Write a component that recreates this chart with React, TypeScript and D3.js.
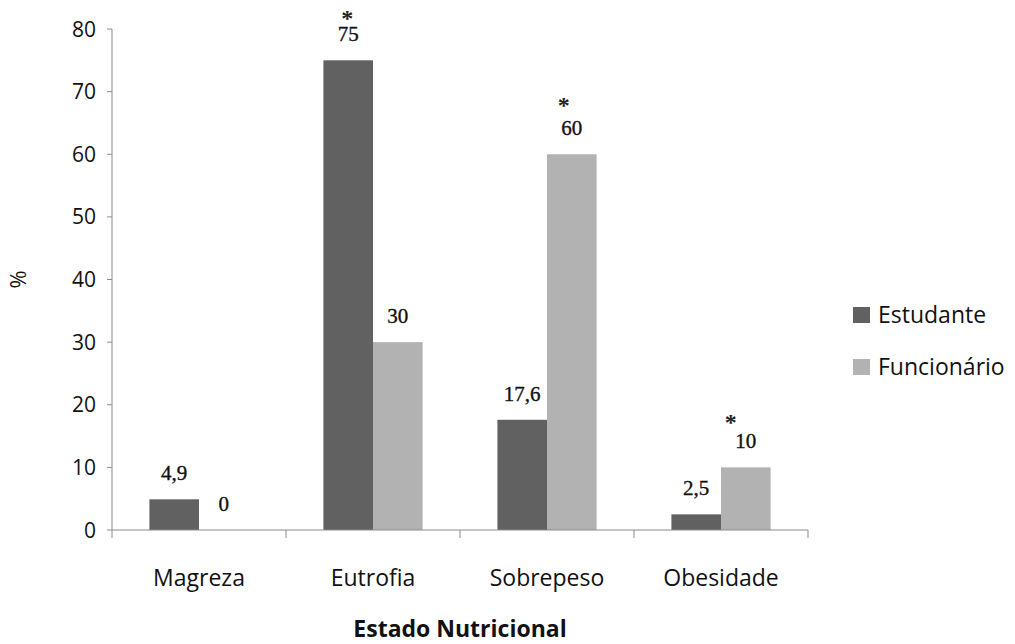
import React from "react";
import * as d3 from "d3";

const categories = ["Magreza", "Eutrofia", "Sobrepeso", "Obesidade"];
const seriesNames = ["Estudante", "Funcionário"];
const estudante = [4.9, 75, 17.6, 2.5];
const funcionario = [0, 30, 60, 10];
const valueLabels = [
  ["4,9", "75", "17,6", "2,5"],
  ["0", "30", "60", "10"],
];
// significance markers (*) per series and category
const significant = [
  [false, true, false, false],
  [false, false, true, true],
];
const yTicks = [0, 10, 20, 30, 40, 50, 60, 70, 80];

const W = 1015;
const H = 644;
const margin = { left: 112, right: 207, top: 29, bottom: 114 };
const colors = ["#616161", "#b2b2b2"];
const sansFont = "'Open Sans', 'Noto Sans', sans-serif";
const serifFont = "'Liberation Serif', 'DejaVu Serif', serif";

export default function App() {
  const x0 = d3
    .scaleBand<string>()
    .domain(categories)
    .range([margin.left, W - margin.right])
    .paddingInner(0)
    .paddingOuter(0);
  const inner = x0.bandwidth() * 0.57;
  const x1 = d3
    .scaleBand<number>()
    .domain([0, 1])
    .range([0, inner]);
  const groupOffset = (x0.bandwidth() - inner) / 2;
  const y = d3
    .scaleLinear()
    .domain([0, 80])
    .range([H - margin.bottom, margin.top]);

  const series = [estudante, funcionario];
  const axisColor = "#8c8c8c";
  const y0 = y(0);
  const boundaries = categories.map((c) => x0(c)!).concat([x0.range()[1]]);

  return (
    <svg width={W} height={H} style={{ position: "absolute", left: 0, top: 0, background: "#fff" }}>
      {/* bars */}
      {series.map((vals, si) =>
        vals.map((v, ci) => {
          const bx = x0(categories[ci])! + groupOffset + x1(si)!;
          return (
            <rect
              key={`b${si}-${ci}`}
              x={bx}
              y={y(v)}
              width={x1.bandwidth()}
              height={y0 - y(v)}
              fill={colors[si]}
            />
          );
        })
      )}

      {/* y axis */}
      <line x1={margin.left} x2={margin.left} y1={y(80)} y2={y0} stroke={axisColor} strokeWidth={1} />
      {yTicks.map((t) => (
        <g key={`yt${t}`}>
          <line x1={margin.left - 5} x2={margin.left} y1={y(t)} y2={y(t)} stroke={axisColor} />
          <text
            x={margin.left - 16}
            y={y(t)}
            dy="0.36em"
            textAnchor="end"
            fontFamily={sansFont}
            fontSize={21}
            fill="#111"
          >
            {t}
          </text>
        </g>
      ))}

      {/* x axis */}
      <line x1={margin.left} x2={x0.range()[1]} y1={y0} y2={y0} stroke={axisColor} strokeWidth={1} />
      {boundaries.map((bx, i) => (
        <line key={`xt${i}`} x1={bx} x2={bx} y1={y0} y2={y0 + 8} stroke={axisColor} />
      ))}
      {categories.map((c) => (
        <text
          key={`xl${c}`}
          x={x0(c)! + x0.bandwidth() / 2}
          y={y0 + 56}
          textAnchor="middle"
          fontFamily={sansFont}
          fontSize={23}
          fill="#111"
        >
          {c}
        </text>
      ))}

      {/* value labels and markers */}
      {series.map((vals, si) =>
        vals.map((v, ci) => {
          const cx = x0(categories[ci])! + groupOffset + x1(si)! + x1.bandwidth() / 2;
          const ly = y(v) - 19;
          return (
            <g key={`vl${si}-${ci}`}>
              <text
                x={cx}
                y={ly}
                textAnchor="middle"
                fontFamily={serifFont}
                fontSize={21}
                fill="#111"
                stroke="#111"
                strokeWidth={0.35}
              >
                {valueLabels[si][ci]}
              </text>
              {significant[si][ci] && (
                <text
                  x={cx - (v > 70 ? 1 : v > 30 ? 8 : 15)}
                  y={ly - (v > 70 ? 15 : v > 30 ? 22 : 18)}
                  textAnchor="middle"
                  fontFamily={serifFont}
                  fontSize={24}
                  fontWeight={700}
                  fill="#222"
                >
                  *
                </text>
              )}
            </g>
          );
        })
      )}

      {/* axis titles */}
      <text
        x={(margin.left + x0.range()[1]) / 2}
        y={637}
        textAnchor="middle"
        fontFamily={sansFont}
        fontSize={23}
        fontWeight={700}
        fill="#111"
      >
        Estado Nutricional
      </text>
      <text
        transform={`translate(26, ${(y(80) + y0) / 2}) rotate(-90)`}
        textAnchor="middle"
        fontFamily={sansFont}
        fontSize={22}
        fill="#111"
      >
        %
      </text>

      {/* legend */}
      {seriesNames.map((name, i) => (
        <g key={`lg${name}`} transform={`translate(853, ${315 + i * 52})`}>
          <rect x={0} y={-8} width={17} height={16} fill={colors[i]} />
          <text x={25} y={0} dy="0.36em" fontFamily={sansFont} fontSize={23} fill="#111">
            {name}
          </text>
        </g>
      ))}
    </svg>
  );
}
